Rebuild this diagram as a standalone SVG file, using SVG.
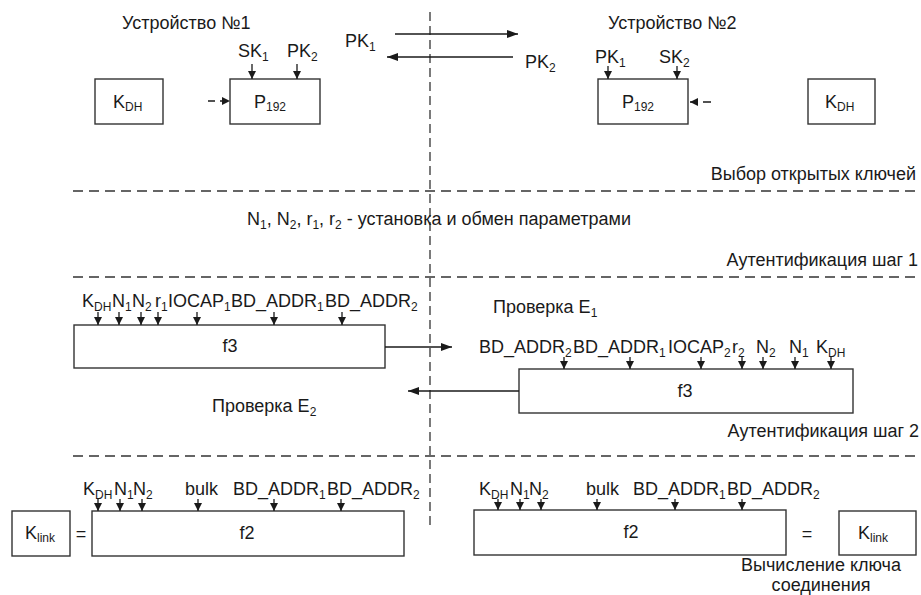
<svg xmlns="http://www.w3.org/2000/svg" width="921" height="595" viewBox="0 0 921 595">
<defs>
<style>
text{font-family:"Liberation Sans",Arial,sans-serif;font-size:18px;fill:#1a1a1a}
.s{font-size:12px}
.mid{text-anchor:middle}
.end{text-anchor:end}
.box{fill:#fff;stroke:#333;stroke-width:1.4}
.ln{stroke:#1a1a1a;stroke-width:1.3;fill:none}
.dash{stroke:#333;stroke-width:1.3;fill:none;stroke-dasharray:10 6}
.vdash{stroke:#333;stroke-width:1.3;fill:none;stroke-dasharray:9 5}
</style>
<marker id="a" markerUnits="userSpaceOnUse" markerWidth="10" markerHeight="10" refX="8" refY="4" orient="auto"><path d="M0,0 L8,4 L0,8 z" fill="#1a1a1a"/></marker>
<marker id="b" markerUnits="userSpaceOnUse" markerWidth="12" markerHeight="10" refX="11" refY="4" orient="auto"><path d="M0,0 L11,4 L0,8 z" fill="#1a1a1a"/></marker>
</defs>
<rect width="921" height="595" fill="#fff"/>

<g id="separators">
<line class="vdash" x1="430" y1="12" x2="430" y2="525"/>
<line class="dash" x1="73" y1="191" x2="921" y2="191"/>
<line class="dash" x1="73" y1="277" x2="921" y2="277"/>
<line class="dash" x1="73" y1="456" x2="921" y2="456"/>
</g>

<g id="titles">
<text x="122" y="29">Устройство №1</text>
<text x="608" y="29">Устройство №2</text>
<text class="end" x="916" y="180">Выбор открытых ключей</text>
<text x="247" y="225">N<tspan class="s" dy="4">1</tspan><tspan dy="-4">, N</tspan><tspan class="s" dy="4">2</tspan><tspan dy="-4">, r</tspan><tspan class="s" dy="4">1</tspan><tspan dy="-4">, r</tspan><tspan class="s" dy="4">2</tspan><tspan dy="-4">  - установка и обмен параметрами</tspan></text>
<text class="end" x="918" y="266">Аутентификация шаг 1</text>
<text class="end" x="919" y="437">Аутентификация шаг 2</text>
<text x="493" y="313">Проверка E<tspan class="s" dy="4">1</tspan></text>
<text x="212" y="412">Проверка E<tspan class="s" dy="4">2</tspan></text>
<text class="mid" x="821" y="571">Вычисление ключа</text>
<text class="mid" x="821" y="591">соединения</text>
</g>

<g id="key-exchange">
<text x="345" y="47">PK<tspan class="s" dy="4">1</tspan></text>
<text x="525" y="68">PK<tspan class="s" dy="4">2</tspan></text>
</g>

<g id="kdh1">
<rect class="box" x="95" y="79" width="68" height="45"/>
<text x="113" y="108">K<tspan class="s" dy="3">DH</tspan></text>
</g>
<g id="p192-1">
<rect class="box" x="230" y="79" width="90" height="45"/>
<text x="254" y="108">P<tspan class="s" dy="3">192</tspan></text>
<text x="238" y="57">SK<tspan class="s" dy="4">1</tspan></text>
<text x="287" y="57">PK<tspan class="s" dy="4">2</tspan></text>
</g>
<g id="p192-2">
<rect class="box" x="598" y="79" width="90" height="45"/>
<text x="622" y="108">P<tspan class="s" dy="3">192</tspan></text>
<text x="595" y="63">PK<tspan class="s" dy="4">1</tspan></text>
<text x="659" y="63">SK<tspan class="s" dy="4">2</tspan></text>
</g>
<g id="kdh2">
<rect class="box" x="808" y="79" width="67" height="45"/>
<text x="825" y="108">K<tspan class="s" dy="3">DH</tspan></text>
</g>

<g id="f3-1">
<rect class="box" x="74" y="325" width="311" height="43"/>
<text class="mid" x="230" y="352">f3</text>
<text x="82" y="307">K<tspan class="s" dy="4">DH</tspan></text>
<text x="112" y="307">N<tspan class="s" dy="4">1</tspan></text>
<text x="132" y="307">N<tspan class="s" dy="4">2</tspan></text>
<text x="155" y="307">r<tspan class="s" dy="4">1</tspan></text>
<text x="168" y="307">IOCAP<tspan class="s" dy="4">1</tspan></text>
<text x="231" y="307">BD_ADDR<tspan class="s" dy="4">1</tspan></text>
<text x="325" y="307">BD_ADDR<tspan class="s" dy="4">2</tspan></text>
</g>

<g id="f3-2">
<rect class="box" x="519" y="369" width="334" height="44"/>
<text class="mid" x="685" y="397">f3</text>
<text x="479" y="353">BD_ADDR<tspan class="s" dy="4">2</tspan></text>
<text x="573" y="353">BD_ADDR<tspan class="s" dy="4">1</tspan></text>
<text x="668" y="353">IOCAP<tspan class="s" dy="4">2</tspan></text>
<text x="732" y="353">r<tspan class="s" dy="4">2</tspan></text>
<text x="756" y="353">N<tspan class="s" dy="4">2</tspan></text>
<text x="789" y="353">N<tspan class="s" dy="4">1</tspan></text>
<text x="816" y="353">K<tspan class="s" dy="4">DH</tspan></text>
</g>

<g id="klink-1">
<rect class="box" x="12" y="511" width="58" height="45"/>
<text x="25" y="539">K<tspan class="s" dy="3">link</tspan></text>
<text class="mid" x="81" y="540">=</text>
</g>
<g id="f2-1">
<rect class="box" x="92" y="511" width="312" height="45"/>
<text class="mid" x="247" y="539">f2</text>
<text x="83" y="495">K<tspan class="s" dy="4">DH</tspan></text>
<text x="114" y="495">N<tspan class="s" dy="4">1</tspan></text>
<text x="133" y="495">N<tspan class="s" dy="4">2</tspan></text>
<text x="185" y="495">bulk</text>
<text x="233" y="495">BD_ADDR<tspan class="s" dy="4">1</tspan></text>
<text x="327" y="495">BD_ADDR<tspan class="s" dy="4">2</tspan></text>
</g>

<g id="f2-2">
<rect class="box" x="474" y="510" width="312" height="45"/>
<text class="mid" x="631" y="538">f2</text>
<text x="479" y="495">K<tspan class="s" dy="4">DH</tspan></text>
<text x="510" y="495">N<tspan class="s" dy="4">1</tspan></text>
<text x="529" y="495">N<tspan class="s" dy="4">2</tspan></text>
<text x="586" y="495">bulk</text>
<text x="633" y="495">BD_ADDR<tspan class="s" dy="4">1</tspan></text>
<text x="727" y="495">BD_ADDR<tspan class="s" dy="4">2</tspan></text>
</g>
<g id="klink-2">
<text class="mid" x="807" y="540">=</text>
<rect class="box" x="839" y="511" width="77" height="44"/>
<text x="858" y="539">K<tspan class="s" dy="3">link</tspan></text>
</g>

<g id="connectors">
<line class="ln" x1="395" y1="34" x2="518" y2="34" marker-end="url(#b)"/>
<line class="ln" x1="513" y1="57" x2="387" y2="57" marker-end="url(#b)"/>
<line class="ln" x1="252" y1="64" x2="252" y2="79" marker-end="url(#a)"/>
<line class="ln" x1="297" y1="64" x2="297" y2="79" marker-end="url(#a)"/>
<line class="ln" x1="608" y1="66" x2="608" y2="79" marker-end="url(#a)"/>
<line class="ln" x1="677" y1="66" x2="677" y2="79" marker-end="url(#a)"/>
<line class="ln" x1="208" y1="101" x2="230" y2="101" stroke-dasharray="7 5" marker-end="url(#a)"/>
<line class="ln" x1="711" y1="102" x2="690" y2="102" stroke-dasharray="8 5" marker-end="url(#a)"/>
<line class="ln" x1="98" y1="312" x2="98" y2="325" marker-end="url(#a)"/>
<line class="ln" x1="119" y1="312" x2="119" y2="325" marker-end="url(#a)"/>
<line class="ln" x1="141" y1="312" x2="141" y2="325" marker-end="url(#a)"/>
<line class="ln" x1="158" y1="312" x2="158" y2="325" marker-end="url(#a)"/>
<line class="ln" x1="197" y1="312" x2="197" y2="325" marker-end="url(#a)"/>
<line class="ln" x1="274" y1="312" x2="274" y2="325" marker-end="url(#a)"/>
<line class="ln" x1="342" y1="312" x2="342" y2="325" marker-end="url(#a)"/>
<line class="ln" x1="385" y1="347" x2="452" y2="347" marker-end="url(#b)"/>
<line class="ln" x1="564" y1="357" x2="564" y2="369" marker-end="url(#a)"/>
<line class="ln" x1="630" y1="357" x2="630" y2="369" marker-end="url(#a)"/>
<line class="ln" x1="701" y1="357" x2="701" y2="369" marker-end="url(#a)"/>
<line class="ln" x1="742" y1="357" x2="742" y2="369" marker-end="url(#a)"/>
<line class="ln" x1="763" y1="357" x2="763" y2="369" marker-end="url(#a)"/>
<line class="ln" x1="795" y1="357" x2="795" y2="369" marker-end="url(#a)"/>
<line class="ln" x1="831" y1="357" x2="831" y2="369" marker-end="url(#a)"/>
<line class="ln" x1="519" y1="391" x2="408" y2="391" marker-end="url(#b)"/>
<line class="ln" x1="98" y1="499" x2="98" y2="511" marker-end="url(#a)"/>
<line class="ln" x1="120" y1="499" x2="120" y2="511" marker-end="url(#a)"/>
<line class="ln" x1="142" y1="499" x2="142" y2="511" marker-end="url(#a)"/>
<line class="ln" x1="198" y1="499" x2="198" y2="511" marker-end="url(#a)"/>
<line class="ln" x1="274" y1="499" x2="274" y2="511" marker-end="url(#a)"/>
<line class="ln" x1="341" y1="499" x2="341" y2="511" marker-end="url(#a)"/>
<line class="ln" x1="498" y1="499" x2="498" y2="510" marker-end="url(#a)"/>
<line class="ln" x1="520" y1="499" x2="520" y2="510" marker-end="url(#a)"/>
<line class="ln" x1="541" y1="499" x2="541" y2="510" marker-end="url(#a)"/>
<line class="ln" x1="597" y1="499" x2="597" y2="510" marker-end="url(#a)"/>
<line class="ln" x1="675" y1="499" x2="675" y2="510" marker-end="url(#a)"/>
<line class="ln" x1="742" y1="499" x2="742" y2="510" marker-end="url(#a)"/>
</g>
</svg>
